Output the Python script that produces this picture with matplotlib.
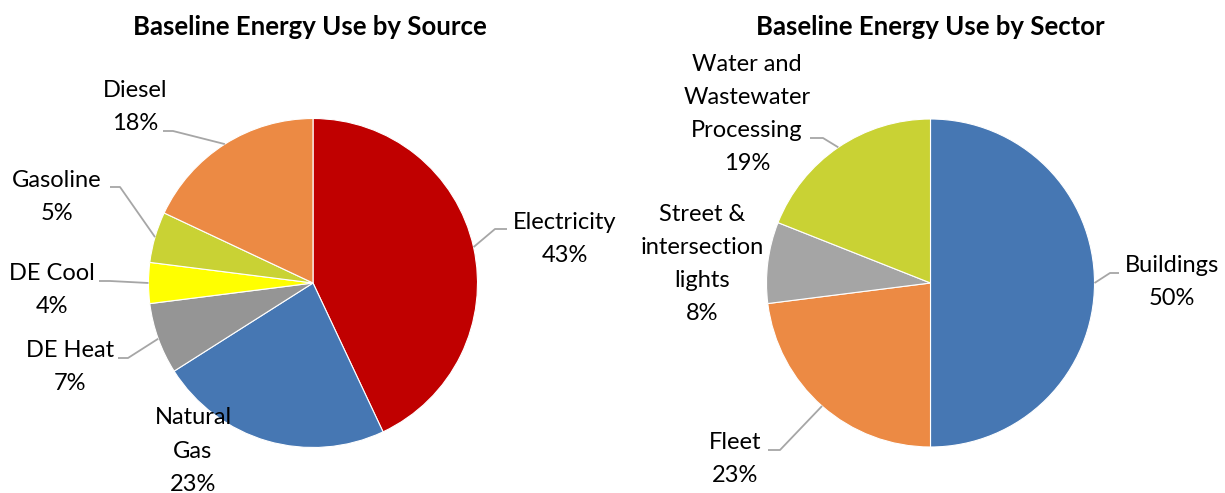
import numpy as np
import matplotlib
matplotlib.use("Agg")
import matplotlib.pyplot as plt

# Energy use by source
source_labels = ["Electricity", "Natural\nGas", "DE Heat", "DE Cool", "Gasoline", "Diesel"]
source_values = [43, 23, 7, 4, 5, 18]
source_colors = ["#C00000", "#4677B3", "#959595", "#FFFF00", "#C9D234", "#EC8A44"]

# Energy use by sector
sector_labels = ["Buildings", "Fleet", "Street &\nintersection\nlights", "Water and\nWastewater\nProcessing"]
sector_values = [50, 23, 8, 19]
sector_colors = ["#4677B3", "#EC8A44", "#A5A5A5", "#C9D234"]

W, H = 1225, 493
FONT = "Lato"
FS = 17
TITLE_FS = 18.5
LEADER = "#A6A6A6"

fig = plt.figure(figsize=(W / 100, H / 100), dpi=100)
ax = fig.add_axes([0, 0, 1, 1])
ax.set_xlim(0, W)
ax.set_ylim(H, 0)
ax.set_aspect("equal")
ax.axis("off")


def draw_pie(values, colors, labels, center, radius, title, title_x, label_pos, leaders):
    # y axis is inverted, so counterclock=True draws clockwise on screen
    wedges, _ = ax.pie(values, colors=colors, startangle=-90, counterclock=True,
                       center=center, radius=radius, frame=True,
                       wedgeprops=dict(edgecolor="white", linewidth=0.8))
    total = float(sum(values))
    for lab, val, w, (tx, ty), lead in zip(labels, values, wedges, label_pos, leaders):
        ax.text(tx, ty, f"{lab}\n{val/total:.0%}", ha="center", va="center",
                fontsize=FS, family=FONT, linespacing=1.72, color="black")
        if lead is not None:
            mid = np.deg2rad((w.theta1 + w.theta2) / 2)
            ex = center[0] + radius * np.cos(mid)
            ey = center[1] + radius * np.sin(mid)
            (sx, sy), (kx, ky) = lead
            ax.plot([sx, kx, ex], [sy, ky, ey], color=LEADER, lw=1.3,
                    solid_capstyle="butt", zorder=3)
    ax.text(title_x, 27, title, ha="center", va="center", fontsize=TITLE_FS,
            family=FONT, weight="bold")


draw_pie(source_values, source_colors, source_labels, (313, 283), 164.5,
         "Baseline Energy Use by Source", 310,
         [(565, 239), (193, 451), (70, 367), (52, 290), (57, 197), (135, 107)],
         [((507, 229), (495, 229)), None, ((118, 358), (128, 358)),
          ((99, 281), (110, 281)), ((110, 187), (120, 187)),
          ((163, 131), (173, 131))])

draw_pie(sector_values, sector_colors, sector_labels, (930.5, 283), 164,
         "Baseline Energy Use by Sector", 930,
         [(1172, 282), (735, 459), (702, 264), (747, 114)],
         [((1119, 273), (1110, 273)), ((768, 450), (780, 450)), None,
          ((810, 138), (823, 138))])

ax.set_xlim(0, W)
ax.set_ylim(H, 0)
ax.axis("off")

fig.savefig("out.png", dpi=100, facecolor="white")
